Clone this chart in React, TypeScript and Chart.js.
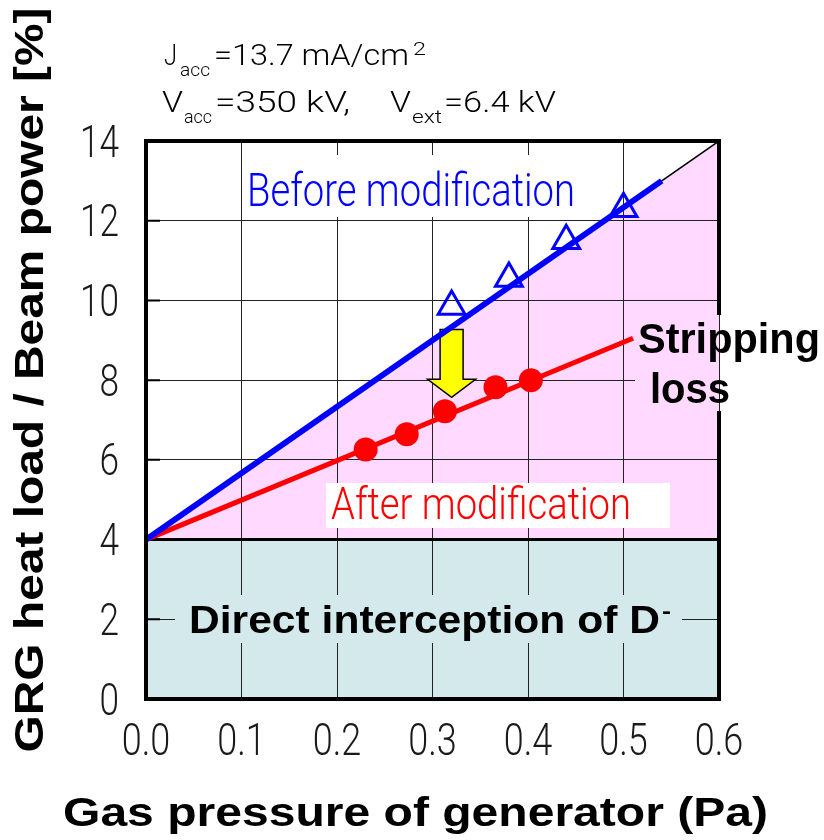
import React, { useEffect, useRef } from 'react';
import { Chart, registerables } from 'chart.js';

Chart.register(...registerables);

// ---- data ----
const xTickValues = [0, 0.1, 0.2, 0.3, 0.4, 0.5, 0.6];
const yTickValues = [0, 2, 4, 6, 8, 10, 12, 14];
const xTickLabels = xTickValues.map((v) => v.toFixed(1));
const yTickLabels = yTickValues.map((v) => String(v));

const beforeX = [0.32, 0.38, 0.44, 0.5];
const beforeY = [9.85, 10.55, 11.5, 12.3];
const afterX = [0.23, 0.273, 0.313, 0.366, 0.403];
const afterY = [6.26, 6.64, 7.22, 7.82, 8.0];
const beforeFitX = [0, 0.54];
const beforeFitY = [4, 13];
const afterFitX = [0, 0.51];
const afterFitY = [4, 9.05];
const strippingBoundX = [0, 0.6];
const strippingBoundY = [4, 14];
const directX = [0, 0.6];
const directY = [4, 4];
const arrowX = 0.32;
const arrowFromY = 9.27;
const arrowNeckY = 8.02;
const arrowToY = 7.57;

// ---- styles ----
const BLUE = '#0000ff';
const RED = '#ff0000';
const PINK = '#ffd9ff';
const TEAL = '#d3e9eb';
const THIN = '"Roboto", "DejaVu Sans", sans-serif';
const BOLD = '"Liberation Sans", Arial, "DejaVu Sans", sans-serif';

const pts = (xs: number[], ys: number[]) => xs.map((x, i) => ({ x, y: ys[i] }));

function fitText(
  ctx: CanvasRenderingContext2D,
  text: string,
  x: number,
  y: number,
  width: number,
  size: number,
  family: string,
  weight: string | number,
  color: string,
  align: CanvasTextAlign = 'left'
) {
  ctx.save();
  ctx.font = `${weight} ${size}px ${family}`;
  const w0 = ctx.measureText(text).width || 1;
  ctx.translate(x, y);
  ctx.scale(width / w0, 1);
  ctx.fillStyle = color;
  ctx.textAlign = align;
  ctx.textBaseline = 'alphabetic';
  ctx.fillText(text, 0, 0);
  ctx.restore();
}

function squeezedText(
  ctx: CanvasRenderingContext2D,
  text: string,
  x: number,
  y: number,
  sx: number,
  size: number,
  color: string,
  align: CanvasTextAlign
) {
  ctx.save();
  ctx.font = `300 ${size}px ${THIN}`;
  ctx.translate(x, y);
  ctx.scale(sx, 1);
  ctx.fillStyle = color;
  ctx.textAlign = align;
  ctx.textBaseline = 'alphabetic';
  ctx.fillText(text, 0, 0);
  ctx.restore();
}

const decor = {
  id: 'decor',
  beforeDatasetsDraw(chart: any) {
    const { ctx, chartArea: a, scales } = chart;
    const x = scales.x;
    const y = scales.y;
    ctx.save();
    // label backgrounds hiding the grid
    ctx.fillStyle = '#ffffff';
    ctx.fillRect(245, 155, 345, 62);
    ctx.fillRect(326, 483, 344, 45);
    ctx.fillStyle = TEAL;
    ctx.fillRect(175, 595, 507, 48);
    ctx.fillStyle = PINK;
    ctx.fillRect(635, 312, a.right - 635, 101);

    // short inner tick marks on the left axis
    ctx.strokeStyle = '#000';
    ctx.lineWidth = 2;
    ctx.beginPath();
    yTickValues.forEach((v) => {
      const py = y.getPixelForValue(v);
      ctx.moveTo(a.left, py);
      ctx.lineTo(a.left + 14, py);
    });
    ctx.stroke();

    // yellow arrow
    const cx = x.getPixelForValue(arrowX);
    const top = y.getPixelForValue(arrowFromY);
    const neck = y.getPixelForValue(arrowNeckY);
    const tip = y.getPixelForValue(arrowToY);
    const sw = 11.5;
    const hw = 24;
    ctx.beginPath();
    ctx.moveTo(cx - sw, top);
    ctx.lineTo(cx + sw, top);
    ctx.lineTo(cx + sw, neck);
    ctx.lineTo(cx + hw, neck);
    ctx.lineTo(cx, tip);
    ctx.lineTo(cx - hw, neck);
    ctx.lineTo(cx - sw, neck);
    ctx.closePath();
    ctx.fillStyle = '#ffff00';
    ctx.fill();
    ctx.lineWidth = 1.5;
    ctx.strokeStyle = '#000';
    ctx.stroke();
    ctx.restore();
  },
  afterDraw(chart: any) {
    const { ctx, chartArea: a, scales } = chart;
    ctx.save();
    // frame
    ctx.strokeStyle = '#000';
    ctx.lineWidth = 4;
    ctx.lineCap = 'square';
    ctx.beginPath();
    ctx.moveTo(a.right, 313);
    ctx.lineTo(a.right, a.top);
    ctx.lineTo(a.left, a.top);
    ctx.lineTo(a.left, a.bottom);
    ctx.lineTo(a.right, a.bottom);
    ctx.lineTo(a.right, 413);
    ctx.stroke();
    ctx.restore();

    // tick labels (narrow, light CAD-like face)
    xTickValues.forEach((v, i) => {
      squeezedText(ctx, xTickLabels[i], scales.x.getPixelForValue(v), 755, 0.8, 45, '#1a1a1a', 'center');
    });
    yTickValues.forEach((v, i) => {
      squeezedText(ctx, yTickLabels[i], a.left - 27, scales.y.getPixelForValue(v) + 15.5, 0.8, 44, '#1a1a1a', 'right');
    });

    // parameters
    fitText(ctx, 'J', 164, 65, 13, 30, THIN, 300, '#000');
    fitText(ctx, 'acc', 180, 76, 30, 18, THIN, 300, '#000');
    fitText(ctx, '=13.7 mA/cm', 214, 65, 195, 30, THIN, 300, '#000');
    fitText(ctx, '2', 413, 55, 13, 19, THIN, 300, '#000');
    fitText(ctx, 'V', 162, 112, 21, 30, THIN, 300, '#000');
    fitText(ctx, 'acc', 184, 123, 28, 18, THIN, 300, '#000');
    fitText(ctx, '=350 kV,', 215, 112, 135, 30, THIN, 300, '#000');
    fitText(ctx, 'V', 390, 112, 21, 30, THIN, 300, '#000');
    fitText(ctx, 'ext', 412, 123, 30, 18, THIN, 300, '#000');
    fitText(ctx, '=6.4 kV', 444, 112, 112, 30, THIN, 300, '#000');

    // in-plot labels
    fitText(ctx, 'Before modification', 247, 206, 328, 47, THIN, 300, BLUE);
    fitText(ctx, 'After modification', 331, 519, 300, 45, THIN, 300, RED);
    fitText(ctx, 'Stripping', 638, 353, 182, 42, BOLD, 'bold', '#000');
    fitText(ctx, 'loss', 650, 403, 80, 42, BOLD, 'bold', '#000');
    fitText(ctx, 'Direct interception of D', 189, 633, 471, 39, BOLD, 'bold', '#000');
    fitText(ctx, '-', 662, 618, 9, 22, BOLD, 'bold', '#000');

    // axis titles
    fitText(ctx, 'Gas pressure of generator (Pa)', 415.5, 826, 705, 40, BOLD, 'bold', '#000', 'center');
    ctx.save();
    ctx.translate(42.5, 380);
    ctx.rotate(-Math.PI / 2);
    fitText(ctx, 'GRG heat load / Beam power [%]', 0, 0, 745, 40, BOLD, 'bold', '#000', 'center');
    ctx.restore();
  },
};

export default function App() {
  const ref = useRef<HTMLCanvasElement | null>(null);

  useEffect(() => {
    if (!ref.current) return;
    const chart = new Chart(ref.current, {
      type: 'line',
      data: {
        datasets: [
          {
            label: 'Before modification (measured)',
            data: pts(beforeX, beforeY),
            showLine: false,
            pointStyle: 'triangle',
            pointRadius: 15.5,
            pointBorderWidth: 3,
            pointBorderColor: BLUE,
            pointBackgroundColor: 'rgba(0,0,0,0)',
            borderColor: BLUE,
          },
          {
            label: 'After modification (measured)',
            data: pts(afterX, afterY),
            showLine: false,
            pointStyle: 'circle',
            pointRadius: 12,
            pointBorderWidth: 0,
            pointBackgroundColor: RED,
            pointBorderColor: RED,
            borderColor: RED,
          },
          {
            label: 'Before modification (fit)',
            data: pts(beforeFitX, beforeFitY),
            borderColor: BLUE,
            borderWidth: 6,
            pointRadius: 0,
            borderCapStyle: 'butt',
          },
          {
            label: 'After modification (fit)',
            data: pts(afterFitX, afterFitY),
            borderColor: RED,
            borderWidth: 5,
            pointRadius: 0,
          },
          {
            label: 'Stripping loss region',
            data: pts(strippingBoundX, strippingBoundY),
            borderColor: '#000',
            borderWidth: 1.5,
            pointRadius: 0,
            fill: { value: 4 },
            backgroundColor: PINK,
          },
          {
            label: 'Direct interception region',
            data: pts(directX, directY),
            borderColor: '#000',
            borderWidth: 3,
            pointRadius: 0,
            fill: 'origin',
            backgroundColor: TEAL,
          },
        ],
      },
      options: {
        animation: false,
        responsive: false,
        events: [],
        layout: { padding: { top: 141, right: 105, bottom: 0, left: 0 } },
        plugins: {
          legend: { display: false },
          tooltip: { enabled: false },
          filler: { drawTime: 'beforeDraw' },
        },
        scales: {
          x: {
            type: 'linear',
            min: 0,
            max: 0.6,
            afterBuildTicks: (s: any) => {
              s.ticks = xTickValues.map((v) => ({ value: v }));
            },
            afterFit: (s: any) => {
              s.height = 141;
            },
            grid: { color: '#222', lineWidth: 1, drawTicks: false },
            border: { display: false },
            ticks: { display: false },
          },
          y: {
            type: 'linear',
            min: 0,
            max: 14,
            afterBuildTicks: (s: any) => {
              s.ticks = yTickValues.map((v) => ({ value: v }));
            },
            afterFit: (s: any) => {
              s.width = 146;
            },
            grid: { color: '#222', lineWidth: 1, drawTicks: false },
            border: { display: false },
            ticks: { display: false },
          },
        },
      },
      plugins: [decor],
    } as any);
    return () => chart.destroy();
  }, []);

  return (
    <div style={{ position: 'absolute', left: 0, top: 0, width: 824, height: 840, background: '#fff' }}>
      <canvas ref={ref} width={824} height={840} />
    </div>
  );
}
